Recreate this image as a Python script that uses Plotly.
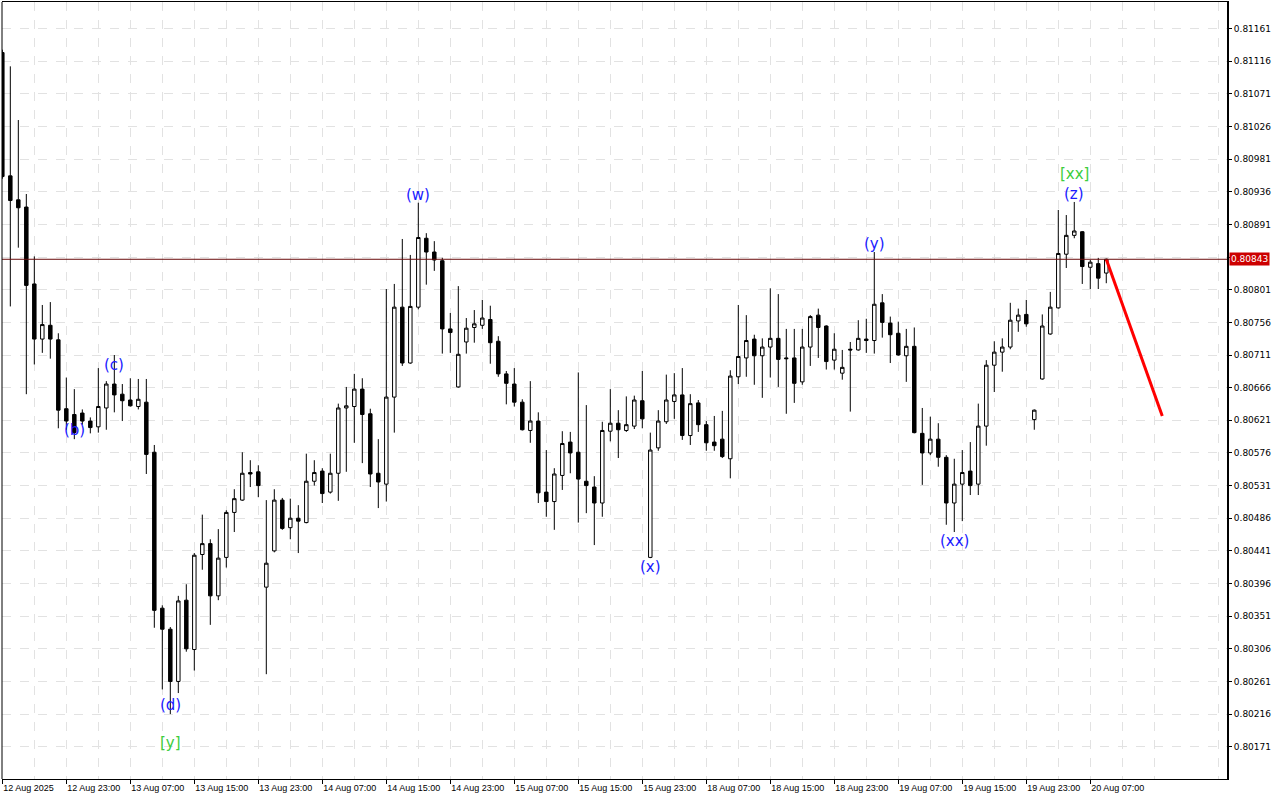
import plotly.graph_objects as go

# ---------------- data (H1 bars) ----------------
bar_index = list(range(139))

open_ = [0.81128, 0.80958, 0.80925, 0.80915, 0.80809, 0.80733, 0.80752, 0.80732, 0.80637, 0.80629,
         0.80631, 0.80620, 0.80612, 0.80638, 0.80671, 0.80657, 0.80649, 0.80640, 0.80646, 0.80577,
         0.80362, 0.80333, 0.80261, 0.80373, 0.80305, 0.80436, 0.80451, 0.80379, 0.80432, 0.80494,
         0.80511, 0.80549, 0.80550, 0.80391, 0.80441, 0.80511, 0.80473, 0.80486, 0.80480, 0.80537,
         0.80551, 0.80522, 0.80548, 0.80638, 0.80640, 0.80664, 0.80630, 0.80548, 0.80533, 0.80653,
         0.80777, 0.80700, 0.80777, 0.80872, 0.80853, 0.80841, 0.80747, 0.80667, 0.80729, 0.80749,
         0.80752, 0.80760, 0.80730, 0.80685, 0.80671, 0.80646, 0.80607, 0.80620, 0.80522, 0.80509,
         0.80545, 0.80591, 0.80577, 0.80537, 0.80529, 0.80507, 0.80606, 0.80617, 0.80607, 0.80613,
         0.80648, 0.80432, 0.80583, 0.80619, 0.80647, 0.80656, 0.80600, 0.80645, 0.80615, 0.80591,
         0.80595, 0.80568, 0.80681, 0.80707, 0.80733, 0.80710, 0.80722, 0.80734, 0.80707, 0.80707,
         0.80674, 0.80722, 0.80766, 0.80751, 0.80704, 0.80686, 0.80719, 0.80718, 0.80733, 0.80731,
         0.80783, 0.80755, 0.80741, 0.80710, 0.80723, 0.80603, 0.80576, 0.80595, 0.80570, 0.80507,
         0.80533, 0.80551, 0.80533, 0.80613, 0.80697, 0.80715, 0.80722, 0.80758, 0.80767, 0.80622,
         0.80678, 0.80740, 0.80776, 0.80850, 0.80876, 0.80881, 0.80832, 0.80837, 0.80824]

high = [0.81132, 0.81109, 0.81035, 0.80933, 0.80847, 0.80780, 0.80784, 0.80741, 0.80680, 0.80664,
        0.80636, 0.80625, 0.80693, 0.80675, 0.80711, 0.80671, 0.80679, 0.80678, 0.80678, 0.80587,
        0.80366, 0.80336, 0.80379, 0.80395, 0.80438, 0.80491, 0.80457, 0.80471, 0.80497, 0.80526,
        0.80577, 0.80566, 0.80559, 0.80511, 0.80526, 0.80514, 0.80513, 0.80504, 0.80575, 0.80566,
        0.80555, 0.80575, 0.80644, 0.80667, 0.80685, 0.80679, 0.80637, 0.80595, 0.80802, 0.80809,
        0.80871, 0.80849, 0.80921, 0.80879, 0.80868, 0.80845, 0.80769, 0.80806, 0.80762, 0.80773,
        0.80787, 0.80779, 0.80737, 0.80689, 0.80693, 0.80650, 0.80675, 0.80632, 0.80580, 0.80555,
        0.80606, 0.80605, 0.80687, 0.80642, 0.80544, 0.80619, 0.80664, 0.80635, 0.80654, 0.80655,
        0.80689, 0.80604, 0.80635, 0.80684, 0.80686, 0.80693, 0.80657, 0.80649, 0.80620, 0.80627,
        0.80634, 0.80690, 0.80780, 0.80766, 0.80739, 0.80734, 0.80803, 0.80795, 0.80747, 0.80747,
        0.80747, 0.80766, 0.80775, 0.80752, 0.80741, 0.80718, 0.80729, 0.80759, 0.80761, 0.80853,
        0.80795, 0.80764, 0.80757, 0.80747, 0.80749, 0.80638, 0.80626, 0.80617, 0.80573, 0.80568,
        0.80580, 0.80591, 0.80644, 0.80704, 0.80730, 0.80734, 0.80783, 0.80775, 0.80787, 0.80636,
        0.80767, 0.80798, 0.80911, 0.80904, 0.80922, 0.80882, 0.80842, 0.80845, 0.80844]

low = [0.80954, 0.80778, 0.80859, 0.80657, 0.80698, 0.80714, 0.80706, 0.80610, 0.80608, 0.80595,
       0.80615, 0.80603, 0.80604, 0.80608, 0.80632, 0.80620, 0.80640, 0.80636, 0.80547, 0.80335,
       0.80250, 0.80216, 0.80245, 0.80302, 0.80276, 0.80415, 0.80339, 0.80373, 0.80418, 0.80467,
       0.80510, 0.80529, 0.80515, 0.80271, 0.80439, 0.80470, 0.80457, 0.80438, 0.80479, 0.80531,
       0.80507, 0.80520, 0.80510, 0.80550, 0.80590, 0.80562, 0.80529, 0.80500, 0.80509, 0.80604,
       0.80696, 0.80699, 0.80774, 0.80808, 0.80827, 0.80713, 0.80714, 0.80666, 0.80713, 0.80728,
       0.80747, 0.80699, 0.80681, 0.80643, 0.80640, 0.80607, 0.80590, 0.80507, 0.80488, 0.80470,
       0.80525, 0.80548, 0.80480, 0.80493, 0.80449, 0.80488, 0.80592, 0.80569, 0.80605, 0.80609,
       0.80610, 0.80431, 0.80579, 0.80616, 0.80623, 0.80594, 0.80587, 0.80605, 0.80579, 0.80579,
       0.80569, 0.80541, 0.80671, 0.80681, 0.80670, 0.80652, 0.80680, 0.80667, 0.80630, 0.80645,
       0.80670, 0.80696, 0.80707, 0.80691, 0.80691, 0.80677, 0.80633, 0.80717, 0.80714, 0.80713,
       0.80735, 0.80700, 0.80710, 0.80674, 0.80603, 0.80532, 0.80573, 0.80557, 0.80477, 0.80467,
       0.80482, 0.80518, 0.80518, 0.80586, 0.80660, 0.80688, 0.80719, 0.80743, 0.80750, 0.80608,
       0.80677, 0.80739, 0.80775, 0.80831, 0.80872, 0.80809, 0.80802, 0.80802, 0.80810]

close = [0.80957, 0.80924, 0.80914, 0.80807, 0.80733, 0.80753, 0.80733, 0.80635, 0.80620, 0.80604,
         0.80620, 0.80611, 0.80640, 0.80671, 0.80656, 0.80648, 0.80641, 0.80650, 0.80574, 0.80359,
         0.80333, 0.80261, 0.80372, 0.80306, 0.80435, 0.80451, 0.80379, 0.80431, 0.80494, 0.80513,
         0.80548, 0.80547, 0.80531, 0.80424, 0.80511, 0.80472, 0.80486, 0.80482, 0.80537, 0.80549,
         0.80520, 0.80548, 0.80638, 0.80641, 0.80664, 0.80629, 0.80547, 0.80536, 0.80653, 0.80777,
         0.80700, 0.80778, 0.80873, 0.80853, 0.80842, 0.80747, 0.80742, 0.80712, 0.80748, 0.80754,
         0.80762, 0.80728, 0.80685, 0.80672, 0.80646, 0.80608, 0.80620, 0.80521, 0.80509, 0.80547,
         0.80589, 0.80576, 0.80540, 0.80531, 0.80507, 0.80607, 0.80617, 0.80608, 0.80615, 0.80649,
         0.80623, 0.80580, 0.80620, 0.80649, 0.80656, 0.80600, 0.80644, 0.80615, 0.80590, 0.80586,
         0.80571, 0.80682, 0.80709, 0.80731, 0.80710, 0.80722, 0.80734, 0.80705, 0.80706, 0.80672,
         0.80722, 0.80764, 0.80749, 0.80702, 0.80719, 0.80694, 0.80718, 0.80734, 0.80731, 0.80781,
         0.80756, 0.80739, 0.80711, 0.80723, 0.80604, 0.80576, 0.80595, 0.80570, 0.80507, 0.80533,
         0.80549, 0.80531, 0.80613, 0.80697, 0.80715, 0.80722, 0.80759, 0.80766, 0.80754, 0.80635,
         0.80751, 0.80777, 0.80851, 0.80876, 0.80882, 0.80833, 0.80839, 0.80817, 0.80843]

# x-axis labels (every 8 bars)
x_tick_pos = [0, 8, 16, 24, 32, 40, 48, 56, 64, 72, 80, 88, 96, 104, 112, 120, 128, 136]
x_tick_text = ["12 Aug 2025", "12 Aug 23:00", "13 Aug 07:00", "13 Aug 15:00", "13 Aug 23:00",
               "14 Aug 07:00", "14 Aug 15:00", "14 Aug 23:00", "15 Aug 07:00", "15 Aug 15:00",
               "15 Aug 23:00", "18 Aug 07:00", "18 Aug 15:00", "18 Aug 23:00", "19 Aug 07:00",
               "19 Aug 15:00", "19 Aug 23:00", "20 Aug 07:00"]

# y-axis price ticks
y_ticks = [0.81161, 0.81116, 0.81071, 0.81026, 0.80981, 0.80936, 0.80891, 0.80846, 0.80801,
           0.80756, 0.80711, 0.80666, 0.80621, 0.80576, 0.80531, 0.80486, 0.80441, 0.80396,
           0.80351, 0.80306, 0.80261, 0.80216, 0.80171]
y_tick_text = ["0.81161", "0.81116", "0.81071", "0.81026", "0.80981", "0.80936", "0.80891", "",
               "0.80801", "0.80756", "0.80711", "0.80666", "0.80621", "0.80576", "0.80531",
               "0.80486", "0.80441", "0.80396", "0.80351", "0.80306", "0.80261", "0.80216", "0.80171"]

# wave labels
wave_text = ["(b)", "(c)", "(d)", "(w)", "(x)", "(y)", "(xx)", "(z)"]
wave_x = [9, 14, 21, 52, 81, 109, 119, 134]
wave_y = [0.80608, 0.80697, 0.80228, 0.80932, 0.80419, 0.80864, 0.80455, 0.80933]

degree_text = ["[y]", "[xx]"]
degree_x = [21, 134]
degree_y = [0.80176, 0.80961]

# forecast line
forecast_x = [138, 145]
forecast_y = [0.80843, 0.80627]

last_price = close[-1]

# ---------------- figure ----------------
fig = go.Figure()

fig.add_trace(go.Candlestick(
    x=bar_index, open=open_, high=high, low=low, close=close,
    increasing=dict(line=dict(color="black", width=1), fillcolor="white"),
    decreasing=dict(line=dict(color="black", width=1), fillcolor="black"),
    whiskerwidth=0, showlegend=False, hoverinfo="skip",
))

fig.add_trace(go.Scatter(
    x=forecast_x, y=forecast_y, mode="lines",
    line=dict(color="#ff0000", width=3), showlegend=False, hoverinfo="skip",
))

grid_col = "#e2e2e2"

fig.update_layout(
    width=1280, height=800,
    margin=dict(l=2, r=53, t=2, b=21),
    paper_bgcolor="white", plot_bgcolor="white",
    showlegend=False,
    boxgap=0.38,
    xaxis=dict(
        range=[-0.04, 153.09],
        rangeslider=dict(visible=False),
        tickmode="array", tickvals=x_tick_pos, ticktext=x_tick_text,
        ticks="outside", ticklen=4, tickcolor="black", tickwidth=1,
        ticklabelposition="outside right",
        tickfont=dict(family="Liberation Sans", size=9, color="black"),
        showgrid=True, gridcolor=grid_col, griddash="dash", gridwidth=1,
        minor=dict(tickvals=[p + 4 for p in x_tick_pos] + [144, 152],
                   showgrid=True, gridcolor=grid_col, griddash="dash", ticks=""),
        showline=True, linecolor="black", linewidth=1, mirror=True,
        zeroline=False, fixedrange=True,
    ),
    yaxis=dict(
        range=[0.801265, 0.811977],
        side="right",
        tickmode="array", tickvals=y_ticks, ticktext=y_tick_text,
        ticks="outside", ticklen=3, tickcolor="black",
        tickfont=dict(family="DejaVu Sans", size=9, color="black"),
        showgrid=True, gridcolor=grid_col, griddash="dash", gridwidth=1,
        showline=True, linecolor="black", linewidth=2,
        zeroline=False, fixedrange=True,
    ),
    shapes=[
        dict(type="line", xref="paper", yref="y", x0=0, x1=1,
             y0=last_price, y1=last_price, line=dict(color="#6a0c0c", width=1), layer="above"),
        dict(type="line", xref="paper", yref="paper", x0=0, x1=0, y0=0, y1=1,
             line=dict(color="black", width=1)),
    ],
)

annotations = []
for t, xv, yv in zip(wave_text, wave_x, wave_y):
    annotations.append(dict(x=xv, y=yv, text=t, showarrow=False, xanchor="center", yanchor="middle",
                            font=dict(family="DejaVu Sans", size=15, color="#1a1aff")))
for t, xv, yv in zip(degree_text, degree_x, degree_y):
    annotations.append(dict(x=xv, y=yv, text=t, showarrow=False, xanchor="center", yanchor="middle",
                            font=dict(family="DejaVu Sans", size=15, color="#3ccd3c")))
annotations.append(dict(
    xref="paper", x=1, y=last_price, yref="y", text=f"{last_price:.5f}", showarrow=False,
    xanchor="left", yanchor="middle", xshift=2, bgcolor="#cc0000", borderpad=1,
    font=dict(family="DejaVu Sans", size=9, color="white"),
))
fig.update_layout(annotations=annotations)

fig.write_html(
    "out.html",
    config={"displayModeBar": False},
    post_script="document.body.style.margin='0';document.body.style.overflow='hidden';",
)
